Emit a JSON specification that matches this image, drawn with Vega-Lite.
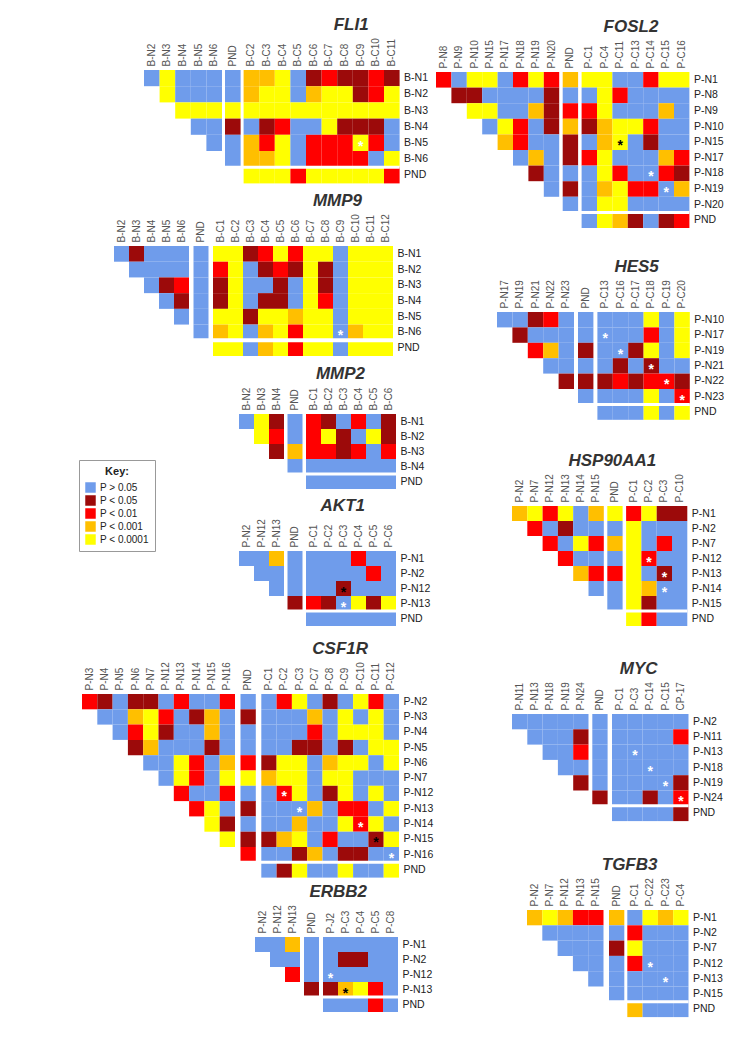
{
"$schema":"https://vega.github.io/schema/vega-lite/v6.json",
"padding":0,
"background":"white",
"config":{
 "view":{"stroke":null},
 "axis":{"ticks":false,"domain":false,"grid":false,"labelFont":"Liberation Sans"},
 "axisX":{"labelAngle":270,"labelFontSize":10,"labelColor":"#555","labelPadding":4},
 "axisY":{"labelFontSize":10.5,"labelColor":"#222","labelPadding":4},
 "scale":{"bandPaddingInner":0,"bandPaddingOuter":0,"rectBandPaddingInner":0},
 "title":{"font":"Liberation Sans","fontSize":17,"fontStyle":"italic","fontWeight":"bold","color":"#333","anchor":"end","frame":"group","dx":-31,"offset":4},
 "legend":{"titleFontWeight":"bold","titleFontSize":11,"titleAnchor":"middle","titleFont":"Liberation Sans","titleColor":"#222","symbolType":"square","symbolSize":110,"symbolStrokeWidth":0,"labelFontSize":10,"labelFont":"Liberation Sans","labelColor":"#222","strokeColor":"#999","padding":6,"fillColor":"white","rowPadding":2}
},
"datasets":{
"FLI1":[
{"r":"B-N1","c":"B-N2","p":0},{"r":"B-N1","c":"B-N3","p":4},{"r":"B-N1","c":"B-N4","p":0},{"r":"B-N1","c":"B-N5","p":0},{"r":"B-N1","c":"B-N6","p":0},
{"r":"B-N2","c":"B-N3","p":4},{"r":"B-N2","c":"B-N4","p":0},{"r":"B-N2","c":"B-N5","p":0},{"r":"B-N2","c":"B-N6","p":0},
{"r":"B-N3","c":"B-N4","p":4},{"r":"B-N3","c":"B-N5","p":4},{"r":"B-N3","c":"B-N6","p":4},
{"r":"B-N4","c":"B-N5","p":0},{"r":"B-N4","c":"B-N6","p":0},
{"r":"B-N5","c":"B-N6","p":0},
{"r":"B-N1","c":"PND","p":0},{"r":"B-N2","c":"PND","p":0},{"r":"B-N3","c":"PND","p":4},{"r":"B-N4","c":"PND","p":1},{"r":"B-N5","c":"PND","p":0},{"r":"B-N6","c":"PND","p":0},
{"r":"B-N1","c":"B-C2","p":3},{"r":"B-N1","c":"B-C3","p":3},{"r":"B-N1","c":"B-C4","p":4},{"r":"B-N1","c":"B-C5","p":0},{"r":"B-N1","c":"B-C6","p":1},{"r":"B-N1","c":"B-C7","p":2},{"r":"B-N1","c":"B-C8","p":1},{"r":"B-N1","c":"B-C9","p":1},{"r":"B-N1","c":"B-C10","p":2},{"r":"B-N1","c":"B-C11","p":1},
{"r":"B-N2","c":"B-C2","p":3},{"r":"B-N2","c":"B-C3","p":4},{"r":"B-N2","c":"B-C4","p":4},{"r":"B-N2","c":"B-C5","p":0},{"r":"B-N2","c":"B-C6","p":3},{"r":"B-N2","c":"B-C7","p":4},{"r":"B-N2","c":"B-C8","p":4},{"r":"B-N2","c":"B-C9","p":1},{"r":"B-N2","c":"B-C10","p":2},{"r":"B-N2","c":"B-C11","p":4},
{"r":"B-N3","c":"B-C2","p":4},{"r":"B-N3","c":"B-C3","p":4},{"r":"B-N3","c":"B-C4","p":4},{"r":"B-N3","c":"B-C5","p":4},{"r":"B-N3","c":"B-C6","p":4},{"r":"B-N3","c":"B-C7","p":4},{"r":"B-N3","c":"B-C8","p":4},{"r":"B-N3","c":"B-C9","p":4},{"r":"B-N3","c":"B-C10","p":4},{"r":"B-N3","c":"B-C11","p":4},
{"r":"B-N4","c":"B-C2","p":0},{"r":"B-N4","c":"B-C3","p":1},{"r":"B-N4","c":"B-C4","p":2},{"r":"B-N4","c":"B-C5","p":0},{"r":"B-N4","c":"B-C6","p":0},{"r":"B-N4","c":"B-C7","p":4},{"r":"B-N4","c":"B-C8","p":1},{"r":"B-N4","c":"B-C9","p":1},{"r":"B-N4","c":"B-C10","p":1},{"r":"B-N4","c":"B-C11","p":0},
{"r":"B-N5","c":"B-C2","p":3},{"r":"B-N5","c":"B-C3","p":2},{"r":"B-N5","c":"B-C4","p":4},{"r":"B-N5","c":"B-C5","p":0},{"r":"B-N5","c":"B-C6","p":2},{"r":"B-N5","c":"B-C7","p":2},{"r":"B-N5","c":"B-C8","p":2},{"r":"B-N5","c":"B-C9","p":4,"s":"w"},{"r":"B-N5","c":"B-C10","p":2},{"r":"B-N5","c":"B-C11","p":0},
{"r":"B-N6","c":"B-C2","p":3},{"r":"B-N6","c":"B-C3","p":3},{"r":"B-N6","c":"B-C4","p":4},{"r":"B-N6","c":"B-C5","p":0},{"r":"B-N6","c":"B-C6","p":2},{"r":"B-N6","c":"B-C7","p":2},{"r":"B-N6","c":"B-C8","p":2},{"r":"B-N6","c":"B-C9","p":2},{"r":"B-N6","c":"B-C10","p":0},{"r":"B-N6","c":"B-C11","p":4},
{"r":"PND","c":"B-C2","p":4},{"r":"PND","c":"B-C3","p":4},{"r":"PND","c":"B-C4","p":4},{"r":"PND","c":"B-C5","p":2},{"r":"PND","c":"B-C6","p":4},{"r":"PND","c":"B-C7","p":4},{"r":"PND","c":"B-C8","p":4},{"r":"PND","c":"B-C9","p":4},{"r":"PND","c":"B-C10","p":4},{"r":"PND","c":"B-C11","p":2}
],
"MMP9":[
{"r":"B-N1","c":"B-N2","p":0},{"r":"B-N1","c":"B-N3","p":1},{"r":"B-N1","c":"B-N4","p":0},{"r":"B-N1","c":"B-N5","p":0},{"r":"B-N1","c":"B-N6","p":0},
{"r":"B-N2","c":"B-N3","p":0},{"r":"B-N2","c":"B-N4","p":0},{"r":"B-N2","c":"B-N5","p":0},{"r":"B-N2","c":"B-N6","p":0},
{"r":"B-N3","c":"B-N4","p":0},{"r":"B-N3","c":"B-N5","p":1},{"r":"B-N3","c":"B-N6","p":2},
{"r":"B-N4","c":"B-N5","p":0},{"r":"B-N4","c":"B-N6","p":1},
{"r":"B-N5","c":"B-N6","p":0},
{"r":"B-N1","c":"PND","p":0},{"r":"B-N2","c":"PND","p":0},{"r":"B-N3","c":"PND","p":0},{"r":"B-N4","c":"PND","p":0},{"r":"B-N5","c":"PND","p":0},{"r":"B-N6","c":"PND","p":0},
{"r":"B-N1","c":"B-C1","p":4},{"r":"B-N1","c":"B-C2","p":4},{"r":"B-N1","c":"B-C3","p":1},{"r":"B-N1","c":"B-C4","p":2},{"r":"B-N1","c":"B-C5","p":4},{"r":"B-N1","c":"B-C6","p":2},{"r":"B-N1","c":"B-C7","p":4},{"r":"B-N1","c":"B-C8","p":4},{"r":"B-N1","c":"B-C9","p":0},{"r":"B-N1","c":"B-C10","p":4},{"r":"B-N1","c":"B-C11","p":4},{"r":"B-N1","c":"B-C12","p":4},
{"r":"B-N2","c":"B-C1","p":2},{"r":"B-N2","c":"B-C2","p":4},{"r":"B-N2","c":"B-C3","p":0},{"r":"B-N2","c":"B-C4","p":1},{"r":"B-N2","c":"B-C5","p":2},{"r":"B-N2","c":"B-C6","p":1},{"r":"B-N2","c":"B-C7","p":4},{"r":"B-N2","c":"B-C8","p":1},{"r":"B-N2","c":"B-C9","p":0},{"r":"B-N2","c":"B-C10","p":4},{"r":"B-N2","c":"B-C11","p":4},{"r":"B-N2","c":"B-C12","p":4},
{"r":"B-N3","c":"B-C1","p":1},{"r":"B-N3","c":"B-C2","p":4},{"r":"B-N3","c":"B-C3","p":0},{"r":"B-N3","c":"B-C4","p":0},{"r":"B-N3","c":"B-C5","p":1},{"r":"B-N3","c":"B-C6","p":0},{"r":"B-N3","c":"B-C7","p":4},{"r":"B-N3","c":"B-C8","p":1},{"r":"B-N3","c":"B-C9","p":0},{"r":"B-N3","c":"B-C10","p":4},{"r":"B-N3","c":"B-C11","p":4},{"r":"B-N3","c":"B-C12","p":4},
{"r":"B-N4","c":"B-C1","p":1},{"r":"B-N4","c":"B-C2","p":4},{"r":"B-N4","c":"B-C3","p":0},{"r":"B-N4","c":"B-C4","p":1},{"r":"B-N4","c":"B-C5","p":1},{"r":"B-N4","c":"B-C6","p":0},{"r":"B-N4","c":"B-C7","p":4},{"r":"B-N4","c":"B-C8","p":2},{"r":"B-N4","c":"B-C9","p":0},{"r":"B-N4","c":"B-C10","p":4},{"r":"B-N4","c":"B-C11","p":4},{"r":"B-N4","c":"B-C12","p":4},
{"r":"B-N5","c":"B-C1","p":4},{"r":"B-N5","c":"B-C2","p":4},{"r":"B-N5","c":"B-C3","p":1},{"r":"B-N5","c":"B-C4","p":4},{"r":"B-N5","c":"B-C5","p":4},{"r":"B-N5","c":"B-C6","p":3},{"r":"B-N5","c":"B-C7","p":4},{"r":"B-N5","c":"B-C8","p":4},{"r":"B-N5","c":"B-C9","p":0},{"r":"B-N5","c":"B-C10","p":4},{"r":"B-N5","c":"B-C11","p":4},{"r":"B-N5","c":"B-C12","p":4},
{"r":"B-N6","c":"B-C1","p":3},{"r":"B-N6","c":"B-C2","p":4},{"r":"B-N6","c":"B-C3","p":0},{"r":"B-N6","c":"B-C4","p":3},{"r":"B-N6","c":"B-C5","p":4},{"r":"B-N6","c":"B-C6","p":2},{"r":"B-N6","c":"B-C7","p":4},{"r":"B-N6","c":"B-C8","p":4},{"r":"B-N6","c":"B-C9","p":0,"s":"w"},{"r":"B-N6","c":"B-C10","p":3},{"r":"B-N6","c":"B-C11","p":4},{"r":"B-N6","c":"B-C12","p":4},
{"r":"PND","c":"B-C1","p":4},{"r":"PND","c":"B-C2","p":4},{"r":"PND","c":"B-C3","p":0},{"r":"PND","c":"B-C4","p":3},{"r":"PND","c":"B-C5","p":4},{"r":"PND","c":"B-C6","p":2},{"r":"PND","c":"B-C7","p":4},{"r":"PND","c":"B-C8","p":4},{"r":"PND","c":"B-C9","p":0},{"r":"PND","c":"B-C10","p":4},{"r":"PND","c":"B-C11","p":4},{"r":"PND","c":"B-C12","p":4}
],
"MMP2":[
{"r":"B-N1","c":"B-N2","p":0},{"r":"B-N1","c":"B-N3","p":4},{"r":"B-N1","c":"B-N4","p":1},
{"r":"B-N2","c":"B-N3","p":4},{"r":"B-N2","c":"B-N4","p":2},
{"r":"B-N3","c":"B-N4","p":1},
{"r":"B-N1","c":"PND","p":0},{"r":"B-N2","c":"PND","p":0},{"r":"B-N3","c":"PND","p":3},{"r":"B-N4","c":"PND","p":0},
{"r":"B-N1","c":"B-C1","p":2},{"r":"B-N1","c":"B-C2","p":1},{"r":"B-N1","c":"B-C3","p":0},{"r":"B-N1","c":"B-C4","p":2},{"r":"B-N1","c":"B-C5","p":0},{"r":"B-N1","c":"B-C6","p":1},
{"r":"B-N2","c":"B-C1","p":2},{"r":"B-N2","c":"B-C2","p":4},{"r":"B-N2","c":"B-C3","p":1},{"r":"B-N2","c":"B-C4","p":0},{"r":"B-N2","c":"B-C5","p":4},{"r":"B-N2","c":"B-C6","p":1},
{"r":"B-N3","c":"B-C1","p":2},{"r":"B-N3","c":"B-C2","p":2},{"r":"B-N3","c":"B-C3","p":1},{"r":"B-N3","c":"B-C4","p":2},{"r":"B-N3","c":"B-C5","p":0},{"r":"B-N3","c":"B-C6","p":2},
{"r":"B-N4","c":"B-C1","p":0},{"r":"B-N4","c":"B-C2","p":0},{"r":"B-N4","c":"B-C3","p":0},{"r":"B-N4","c":"B-C4","p":0},{"r":"B-N4","c":"B-C5","p":0},{"r":"B-N4","c":"B-C6","p":0},
{"r":"PND","c":"B-C1","p":0},{"r":"PND","c":"B-C2","p":0},{"r":"PND","c":"B-C3","p":0},{"r":"PND","c":"B-C4","p":0},{"r":"PND","c":"B-C5","p":0},{"r":"PND","c":"B-C6","p":0}
],
"AKT1":[
{"r":"P-N1","c":"P-N2","p":0},{"r":"P-N1","c":"P-N12","p":0},{"r":"P-N1","c":"P-N13","p":3},
{"r":"P-N2","c":"P-N12","p":0},{"r":"P-N2","c":"P-N13","p":0},
{"r":"P-N12","c":"P-N13","p":0},
{"r":"P-N1","c":"PND","p":0},{"r":"P-N2","c":"PND","p":0},{"r":"P-N12","c":"PND","p":0},{"r":"P-N13","c":"PND","p":1},
{"r":"P-N1","c":"P-C1","p":0},{"r":"P-N1","c":"P-C2","p":0},{"r":"P-N1","c":"P-C3","p":0},{"r":"P-N1","c":"P-C4","p":2},{"r":"P-N1","c":"P-C5","p":0},{"r":"P-N1","c":"P-C6","p":0},
{"r":"P-N2","c":"P-C1","p":0},{"r":"P-N2","c":"P-C2","p":0},{"r":"P-N2","c":"P-C3","p":0},{"r":"P-N2","c":"P-C4","p":0},{"r":"P-N2","c":"P-C5","p":2},{"r":"P-N2","c":"P-C6","p":0},
{"r":"P-N12","c":"P-C1","p":0},{"r":"P-N12","c":"P-C2","p":0},{"r":"P-N12","c":"P-C3","p":1,"s":"k"},{"r":"P-N12","c":"P-C4","p":0},{"r":"P-N12","c":"P-C5","p":0},{"r":"P-N12","c":"P-C6","p":0},
{"r":"P-N13","c":"P-C1","p":2},{"r":"P-N13","c":"P-C2","p":1},{"r":"P-N13","c":"P-C3","p":0,"s":"w"},{"r":"P-N13","c":"P-C4","p":4},{"r":"P-N13","c":"P-C5","p":1},{"r":"P-N13","c":"P-C6","p":4},
{"r":"PND","c":"P-C1","p":0},{"r":"PND","c":"P-C2","p":0},{"r":"PND","c":"P-C3","p":0},{"r":"PND","c":"P-C4","p":0},{"r":"PND","c":"P-C5","p":0},{"r":"PND","c":"P-C6","p":0}
],
"CSF1R":[
{"r":"P-N2","c":"P-N3","p":2},{"r":"P-N2","c":"P-N4","p":1},{"r":"P-N2","c":"P-N5","p":0},{"r":"P-N2","c":"P-N6","p":1},{"r":"P-N2","c":"P-N7","p":1},{"r":"P-N2","c":"P-N12","p":0},{"r":"P-N2","c":"P-N13","p":2},{"r":"P-N2","c":"P-N14","p":0},{"r":"P-N2","c":"P-N15","p":0},{"r":"P-N2","c":"P-N16","p":2},
{"r":"P-N3","c":"P-N4","p":0},{"r":"P-N3","c":"P-N5","p":0},{"r":"P-N3","c":"P-N6","p":3},{"r":"P-N3","c":"P-N7","p":4},{"r":"P-N3","c":"P-N12","p":2},{"r":"P-N3","c":"P-N13","p":0},{"r":"P-N3","c":"P-N14","p":1},{"r":"P-N3","c":"P-N15","p":3},{"r":"P-N3","c":"P-N16","p":0},
{"r":"P-N4","c":"P-N5","p":0},{"r":"P-N4","c":"P-N6","p":2},{"r":"P-N4","c":"P-N7","p":4},{"r":"P-N4","c":"P-N12","p":1},{"r":"P-N4","c":"P-N13","p":0},{"r":"P-N4","c":"P-N14","p":0},{"r":"P-N4","c":"P-N15","p":3},{"r":"P-N4","c":"P-N16","p":0},
{"r":"P-N5","c":"P-N6","p":1},{"r":"P-N5","c":"P-N7","p":3},{"r":"P-N5","c":"P-N12","p":0},{"r":"P-N5","c":"P-N13","p":0},{"r":"P-N5","c":"P-N14","p":0},{"r":"P-N5","c":"P-N15","p":1},{"r":"P-N5","c":"P-N16","p":0},
{"r":"P-N6","c":"P-N7","p":0},{"r":"P-N6","c":"P-N12","p":0},{"r":"P-N6","c":"P-N13","p":4},{"r":"P-N6","c":"P-N14","p":2},{"r":"P-N6","c":"P-N15","p":0},{"r":"P-N6","c":"P-N16","p":3},
{"r":"P-N7","c":"P-N12","p":0},{"r":"P-N7","c":"P-N13","p":4},{"r":"P-N7","c":"P-N14","p":2},{"r":"P-N7","c":"P-N15","p":0},{"r":"P-N7","c":"P-N16","p":4},
{"r":"P-N12","c":"P-N13","p":2},{"r":"P-N12","c":"P-N14","p":0},{"r":"P-N12","c":"P-N15","p":0},{"r":"P-N12","c":"P-N16","p":2},
{"r":"P-N13","c":"P-N14","p":2},{"r":"P-N13","c":"P-N15","p":4},{"r":"P-N13","c":"P-N16","p":0},
{"r":"P-N14","c":"P-N15","p":4},{"r":"P-N14","c":"P-N16","p":1},
{"r":"P-N15","c":"P-N16","p":4},
{"r":"P-N2","c":"PND","p":0},{"r":"P-N3","c":"PND","p":1},{"r":"P-N4","c":"PND","p":0},{"r":"P-N5","c":"PND","p":0},{"r":"P-N6","c":"PND","p":2},{"r":"P-N7","c":"PND","p":4},{"r":"P-N12","c":"PND","p":0},{"r":"P-N13","c":"PND","p":1},{"r":"P-N14","c":"PND","p":0},{"r":"P-N15","c":"PND","p":1},{"r":"P-N16","c":"PND","p":2},
{"r":"P-N2","c":"P-C1","p":0},{"r":"P-N2","c":"P-C2","p":2},{"r":"P-N2","c":"P-C3","p":4},{"r":"P-N2","c":"P-C7","p":0},{"r":"P-N2","c":"P-C8","p":1},{"r":"P-N2","c":"P-C9","p":0},{"r":"P-N2","c":"P-C10","p":4},{"r":"P-N2","c":"P-C11","p":2},{"r":"P-N2","c":"P-C12","p":0},
{"r":"P-N3","c":"P-C1","p":0},{"r":"P-N3","c":"P-C2","p":0},{"r":"P-N3","c":"P-C3","p":0},{"r":"P-N3","c":"P-C7","p":3},{"r":"P-N3","c":"P-C8","p":0},{"r":"P-N3","c":"P-C9","p":4},{"r":"P-N3","c":"P-C10","p":0},{"r":"P-N3","c":"P-C11","p":4},{"r":"P-N3","c":"P-C12","p":0},
{"r":"P-N4","c":"P-C1","p":0},{"r":"P-N4","c":"P-C2","p":0},{"r":"P-N4","c":"P-C3","p":0},{"r":"P-N4","c":"P-C7","p":2},{"r":"P-N4","c":"P-C8","p":0},{"r":"P-N4","c":"P-C9","p":4},{"r":"P-N4","c":"P-C10","p":4},{"r":"P-N4","c":"P-C11","p":4},{"r":"P-N4","c":"P-C12","p":0},
{"r":"P-N5","c":"P-C1","p":0},{"r":"P-N5","c":"P-C2","p":0},{"r":"P-N5","c":"P-C3","p":1},{"r":"P-N5","c":"P-C7","p":1},{"r":"P-N5","c":"P-C8","p":0},{"r":"P-N5","c":"P-C9","p":1},{"r":"P-N5","c":"P-C10","p":0},{"r":"P-N5","c":"P-C11","p":4},{"r":"P-N5","c":"P-C12","p":4},
{"r":"P-N6","c":"P-C1","p":1},{"r":"P-N6","c":"P-C2","p":4},{"r":"P-N6","c":"P-C3","p":4},{"r":"P-N6","c":"P-C7","p":0},{"r":"P-N6","c":"P-C8","p":3},{"r":"P-N6","c":"P-C9","p":4},{"r":"P-N6","c":"P-C10","p":4},{"r":"P-N6","c":"P-C11","p":0},{"r":"P-N6","c":"P-C12","p":4},
{"r":"P-N7","c":"P-C1","p":3},{"r":"P-N7","c":"P-C2","p":4},{"r":"P-N7","c":"P-C3","p":4},{"r":"P-N7","c":"P-C7","p":0},{"r":"P-N7","c":"P-C8","p":4},{"r":"P-N7","c":"P-C9","p":4},{"r":"P-N7","c":"P-C10","p":0},{"r":"P-N7","c":"P-C11","p":0},{"r":"P-N7","c":"P-C12","p":0},
{"r":"P-N12","c":"P-C1","p":0},{"r":"P-N12","c":"P-C2","p":2,"s":"w"},{"r":"P-N12","c":"P-C3","p":4},{"r":"P-N12","c":"P-C7","p":0},{"r":"P-N12","c":"P-C8","p":1},{"r":"P-N12","c":"P-C9","p":4},{"r":"P-N12","c":"P-C10","p":0},{"r":"P-N12","c":"P-C11","p":4},{"r":"P-N12","c":"P-C12","p":0},
{"r":"P-N13","c":"P-C1","p":0},{"r":"P-N13","c":"P-C2","p":0},{"r":"P-N13","c":"P-C3","p":0,"s":"w"},{"r":"P-N13","c":"P-C7","p":3},{"r":"P-N13","c":"P-C8","p":0},{"r":"P-N13","c":"P-C9","p":2},{"r":"P-N13","c":"P-C10","p":2},{"r":"P-N13","c":"P-C11","p":0},{"r":"P-N13","c":"P-C12","p":4},
{"r":"P-N14","c":"P-C1","p":0},{"r":"P-N14","c":"P-C2","p":0},{"r":"P-N14","c":"P-C3","p":3},{"r":"P-N14","c":"P-C7","p":0},{"r":"P-N14","c":"P-C8","p":0},{"r":"P-N14","c":"P-C9","p":4},{"r":"P-N14","c":"P-C10","p":2,"s":"w"},{"r":"P-N14","c":"P-C11","p":4},{"r":"P-N14","c":"P-C12","p":0},
{"r":"P-N15","c":"P-C1","p":1},{"r":"P-N15","c":"P-C2","p":3},{"r":"P-N15","c":"P-C3","p":4},{"r":"P-N15","c":"P-C7","p":0},{"r":"P-N15","c":"P-C8","p":2},{"r":"P-N15","c":"P-C9","p":0},{"r":"P-N15","c":"P-C10","p":0},{"r":"P-N15","c":"P-C11","p":1,"s":"k"},{"r":"P-N15","c":"P-C12","p":4},
{"r":"P-N16","c":"P-C1","p":0},{"r":"P-N16","c":"P-C2","p":0},{"r":"P-N16","c":"P-C3","p":1},{"r":"P-N16","c":"P-C7","p":3},{"r":"P-N16","c":"P-C8","p":0},{"r":"P-N16","c":"P-C9","p":1},{"r":"P-N16","c":"P-C10","p":1},{"r":"P-N16","c":"P-C11","p":0},{"r":"P-N16","c":"P-C12","p":0,"s":"w"},
{"r":"PND","c":"P-C1","p":0},{"r":"PND","c":"P-C2","p":1},{"r":"PND","c":"P-C3","p":4},{"r":"PND","c":"P-C7","p":0},{"r":"PND","c":"P-C8","p":0},{"r":"PND","c":"P-C9","p":4},{"r":"PND","c":"P-C10","p":0},{"r":"PND","c":"P-C11","p":0},{"r":"PND","c":"P-C12","p":4}
],
"ERBB2":[
{"r":"P-N1","c":"P-N2","p":0},{"r":"P-N1","c":"P-N12","p":0},{"r":"P-N1","c":"P-N13","p":3},
{"r":"P-N2","c":"P-N12","p":0},{"r":"P-N2","c":"P-N13","p":0},
{"r":"P-N12","c":"P-N13","p":2},
{"r":"P-N1","c":"PND","p":0},{"r":"P-N2","c":"PND","p":0},{"r":"P-N12","c":"PND","p":0},{"r":"P-N13","c":"PND","p":1},
{"r":"P-N1","c":"P-J2","p":0},{"r":"P-N1","c":"P-C3","p":0},{"r":"P-N1","c":"P-C4","p":0},{"r":"P-N1","c":"P-C5","p":0},{"r":"P-N1","c":"P-C8","p":0},
{"r":"P-N2","c":"P-J2","p":0},{"r":"P-N2","c":"P-C3","p":1},{"r":"P-N2","c":"P-C4","p":1},{"r":"P-N2","c":"P-C5","p":0},{"r":"P-N2","c":"P-C8","p":0},
{"r":"P-N12","c":"P-J2","p":0,"s":"w"},{"r":"P-N12","c":"P-C3","p":0},{"r":"P-N12","c":"P-C4","p":0},{"r":"P-N12","c":"P-C5","p":0},{"r":"P-N12","c":"P-C8","p":0},
{"r":"P-N13","c":"P-J2","p":1},{"r":"P-N13","c":"P-C3","p":3,"s":"k"},{"r":"P-N13","c":"P-C4","p":4},{"r":"P-N13","c":"P-C5","p":2},{"r":"P-N13","c":"P-C8","p":0},
{"r":"PND","c":"P-J2","p":0},{"r":"PND","c":"P-C3","p":0},{"r":"PND","c":"P-C4","p":0},{"r":"PND","c":"P-C5","p":2},{"r":"PND","c":"P-C8","p":0}
],
"FOSL2":[
{"r":"P-N1","c":"P-N8","p":2},{"r":"P-N1","c":"P-N9","p":0},{"r":"P-N1","c":"P-N10","p":4},{"r":"P-N1","c":"P-N15","p":4},{"r":"P-N1","c":"P-N17","p":0},{"r":"P-N1","c":"P-N18","p":2},{"r":"P-N1","c":"P-N19","p":4},{"r":"P-N1","c":"P-N20","p":2},
{"r":"P-N8","c":"P-N9","p":1},{"r":"P-N8","c":"P-N10","p":1},{"r":"P-N8","c":"P-N15","p":0},{"r":"P-N8","c":"P-N17","p":0},{"r":"P-N8","c":"P-N18","p":0},{"r":"P-N8","c":"P-N19","p":0},{"r":"P-N8","c":"P-N20","p":1},
{"r":"P-N9","c":"P-N10","p":4},{"r":"P-N9","c":"P-N15","p":4},{"r":"P-N9","c":"P-N17","p":0},{"r":"P-N9","c":"P-N18","p":0},{"r":"P-N9","c":"P-N19","p":3},{"r":"P-N9","c":"P-N20","p":1},
{"r":"P-N10","c":"P-N15","p":0},{"r":"P-N10","c":"P-N17","p":4},{"r":"P-N10","c":"P-N18","p":2},{"r":"P-N10","c":"P-N19","p":0},{"r":"P-N10","c":"P-N20","p":1},
{"r":"P-N15","c":"P-N17","p":3},{"r":"P-N15","c":"P-N18","p":2},{"r":"P-N15","c":"P-N19","p":0},{"r":"P-N15","c":"P-N20","p":0},
{"r":"P-N17","c":"P-N18","p":0},{"r":"P-N17","c":"P-N19","p":3},{"r":"P-N17","c":"P-N20","p":0},
{"r":"P-N18","c":"P-N19","p":1},{"r":"P-N18","c":"P-N20","p":0},
{"r":"P-N19","c":"P-N20","p":0},
{"r":"P-N1","c":"PND","p":3},{"r":"P-N8","c":"PND","p":0},{"r":"P-N9","c":"PND","p":2},{"r":"P-N10","c":"PND","p":3},{"r":"P-N15","c":"PND","p":1},{"r":"P-N17","c":"PND","p":1},{"r":"P-N18","c":"PND","p":0},{"r":"P-N19","c":"PND","p":1},{"r":"P-N20","c":"PND","p":0},
{"r":"P-N1","c":"P-C1","p":4},{"r":"P-N1","c":"P-C4","p":4},{"r":"P-N1","c":"P-C11","p":0},{"r":"P-N1","c":"P-C13","p":0},{"r":"P-N1","c":"P-C14","p":2},{"r":"P-N1","c":"P-C15","p":4},{"r":"P-N1","c":"P-C16","p":4},
{"r":"P-N8","c":"P-C1","p":0},{"r":"P-N8","c":"P-C4","p":4},{"r":"P-N8","c":"P-C11","p":2},{"r":"P-N8","c":"P-C13","p":0},{"r":"P-N8","c":"P-C14","p":0},{"r":"P-N8","c":"P-C15","p":0},{"r":"P-N8","c":"P-C16","p":0},
{"r":"P-N9","c":"P-C1","p":2},{"r":"P-N9","c":"P-C4","p":4},{"r":"P-N9","c":"P-C11","p":0},{"r":"P-N9","c":"P-C13","p":0},{"r":"P-N9","c":"P-C14","p":0},{"r":"P-N9","c":"P-C15","p":3},{"r":"P-N9","c":"P-C16","p":0},
{"r":"P-N10","c":"P-C1","p":1},{"r":"P-N10","c":"P-C4","p":3},{"r":"P-N10","c":"P-C11","p":4},{"r":"P-N10","c":"P-C13","p":4},{"r":"P-N10","c":"P-C14","p":2},{"r":"P-N10","c":"P-C15","p":0},{"r":"P-N10","c":"P-C16","p":0},
{"r":"P-N15","c":"P-C1","p":0},{"r":"P-N15","c":"P-C4","p":3},{"r":"P-N15","c":"P-C11","p":4,"s":"k"},{"r":"P-N15","c":"P-C13","p":0},{"r":"P-N15","c":"P-C14","p":1},{"r":"P-N15","c":"P-C15","p":0},{"r":"P-N15","c":"P-C16","p":0},
{"r":"P-N17","c":"P-C1","p":2},{"r":"P-N17","c":"P-C4","p":4},{"r":"P-N17","c":"P-C11","p":0},{"r":"P-N17","c":"P-C13","p":0},{"r":"P-N17","c":"P-C14","p":0},{"r":"P-N17","c":"P-C15","p":3},{"r":"P-N17","c":"P-C16","p":2},
{"r":"P-N18","c":"P-C1","p":0},{"r":"P-N18","c":"P-C4","p":4},{"r":"P-N18","c":"P-C11","p":2},{"r":"P-N18","c":"P-C13","p":0},{"r":"P-N18","c":"P-C14","p":0,"s":"w"},{"r":"P-N18","c":"P-C15","p":2},{"r":"P-N18","c":"P-C16","p":1},
{"r":"P-N19","c":"P-C1","p":0},{"r":"P-N19","c":"P-C4","p":3},{"r":"P-N19","c":"P-C11","p":4},{"r":"P-N19","c":"P-C13","p":2},{"r":"P-N19","c":"P-C14","p":2},{"r":"P-N19","c":"P-C15","p":0,"s":"w"},{"r":"P-N19","c":"P-C16","p":3},
{"r":"P-N20","c":"P-C1","p":0},{"r":"P-N20","c":"P-C4","p":4},{"r":"P-N20","c":"P-C11","p":4},{"r":"P-N20","c":"P-C13","p":0},{"r":"P-N20","c":"P-C14","p":0},{"r":"P-N20","c":"P-C15","p":0},{"r":"P-N20","c":"P-C16","p":0},
{"r":"PND","c":"P-C1","p":0},{"r":"PND","c":"P-C4","p":4},{"r":"PND","c":"P-C11","p":3},{"r":"PND","c":"P-C13","p":1},{"r":"PND","c":"P-C14","p":0},{"r":"PND","c":"P-C15","p":1},{"r":"PND","c":"P-C16","p":2}
],
"HES5":[
{"r":"P-N10","c":"P-N17","p":0},{"r":"P-N10","c":"P-N19","p":0},{"r":"P-N10","c":"P-N21","p":1},{"r":"P-N10","c":"P-N22","p":2},{"r":"P-N10","c":"P-N23","p":0},
{"r":"P-N17","c":"P-N19","p":1},{"r":"P-N17","c":"P-N21","p":0},{"r":"P-N17","c":"P-N22","p":0},{"r":"P-N17","c":"P-N23","p":0},
{"r":"P-N19","c":"P-N21","p":2},{"r":"P-N19","c":"P-N22","p":3},{"r":"P-N19","c":"P-N23","p":0},
{"r":"P-N21","c":"P-N22","p":0},{"r":"P-N21","c":"P-N23","p":0},
{"r":"P-N22","c":"P-N23","p":1},
{"r":"P-N10","c":"PND","p":0},{"r":"P-N17","c":"PND","p":0},{"r":"P-N19","c":"PND","p":1},{"r":"P-N21","c":"PND","p":0},{"r":"P-N22","c":"PND","p":1},{"r":"P-N23","c":"PND","p":0},
{"r":"P-N10","c":"P-C13","p":0},{"r":"P-N10","c":"P-C16","p":0},{"r":"P-N10","c":"P-C17","p":0},{"r":"P-N10","c":"P-C18","p":4},{"r":"P-N10","c":"P-C19","p":0},{"r":"P-N10","c":"P-C20","p":4},
{"r":"P-N17","c":"P-C13","p":0,"s":"w"},{"r":"P-N17","c":"P-C16","p":0},{"r":"P-N17","c":"P-C17","p":0},{"r":"P-N17","c":"P-C18","p":2},{"r":"P-N17","c":"P-C19","p":0},{"r":"P-N17","c":"P-C20","p":4},
{"r":"P-N19","c":"P-C13","p":0},{"r":"P-N19","c":"P-C16","p":0,"s":"w"},{"r":"P-N19","c":"P-C17","p":1},{"r":"P-N19","c":"P-C18","p":4},{"r":"P-N19","c":"P-C19","p":0},{"r":"P-N19","c":"P-C20","p":4},
{"r":"P-N21","c":"P-C13","p":0},{"r":"P-N21","c":"P-C16","p":1},{"r":"P-N21","c":"P-C17","p":0},{"r":"P-N21","c":"P-C18","p":1,"s":"w"},{"r":"P-N21","c":"P-C19","p":0},{"r":"P-N21","c":"P-C20","p":0},
{"r":"P-N22","c":"P-C13","p":1},{"r":"P-N22","c":"P-C16","p":2},{"r":"P-N22","c":"P-C17","p":1},{"r":"P-N22","c":"P-C18","p":2},{"r":"P-N22","c":"P-C19","p":2,"s":"w"},{"r":"P-N22","c":"P-C20","p":1},
{"r":"P-N23","c":"P-C13","p":0},{"r":"P-N23","c":"P-C16","p":0},{"r":"P-N23","c":"P-C17","p":0},{"r":"P-N23","c":"P-C18","p":4},{"r":"P-N23","c":"P-C19","p":0},{"r":"P-N23","c":"P-C20","p":2,"s":"w"},
{"r":"PND","c":"P-C13","p":0},{"r":"PND","c":"P-C16","p":0},{"r":"PND","c":"P-C17","p":0},{"r":"PND","c":"P-C18","p":4},{"r":"PND","c":"P-C19","p":0},{"r":"PND","c":"P-C20","p":4}
],
"HSP90AA1":[
{"r":"P-N1","c":"P-N2","p":3},{"r":"P-N1","c":"P-N7","p":4},{"r":"P-N1","c":"P-N12","p":2},{"r":"P-N1","c":"P-N13","p":4},{"r":"P-N1","c":"P-N14","p":0},{"r":"P-N1","c":"P-N15","p":3},
{"r":"P-N2","c":"P-N7","p":2},{"r":"P-N2","c":"P-N12","p":0},{"r":"P-N2","c":"P-N13","p":1},{"r":"P-N2","c":"P-N14","p":0},{"r":"P-N2","c":"P-N15","p":0},
{"r":"P-N7","c":"P-N12","p":2},{"r":"P-N7","c":"P-N13","p":0},{"r":"P-N7","c":"P-N14","p":4},{"r":"P-N7","c":"P-N15","p":2},
{"r":"P-N12","c":"P-N13","p":2},{"r":"P-N12","c":"P-N14","p":0},{"r":"P-N12","c":"P-N15","p":0},
{"r":"P-N13","c":"P-N14","p":3},{"r":"P-N13","c":"P-N15","p":2},
{"r":"P-N14","c":"P-N15","p":0},
{"r":"P-N1","c":"PND","p":4},{"r":"P-N2","c":"PND","p":0},{"r":"P-N7","c":"PND","p":3},{"r":"P-N12","c":"PND","p":0},{"r":"P-N13","c":"PND","p":2},{"r":"P-N14","c":"PND","p":0},{"r":"P-N15","c":"PND","p":0},
{"r":"P-N1","c":"P-C1","p":2},{"r":"P-N1","c":"P-C2","p":4},{"r":"P-N1","c":"P-C3","p":1},{"r":"P-N1","c":"P-C10","p":1},
{"r":"P-N2","c":"P-C1","p":4},{"r":"P-N2","c":"P-C2","p":0},{"r":"P-N2","c":"P-C3","p":0},{"r":"P-N2","c":"P-C10","p":0},
{"r":"P-N7","c":"P-C1","p":4},{"r":"P-N7","c":"P-C2","p":0},{"r":"P-N7","c":"P-C3","p":2},{"r":"P-N7","c":"P-C10","p":0},
{"r":"P-N12","c":"P-C1","p":4},{"r":"P-N12","c":"P-C2","p":2,"s":"w"},{"r":"P-N12","c":"P-C3","p":0},{"r":"P-N12","c":"P-C10","p":0},
{"r":"P-N13","c":"P-C1","p":4},{"r":"P-N13","c":"P-C2","p":0},{"r":"P-N13","c":"P-C3","p":1,"s":"w"},{"r":"P-N13","c":"P-C10","p":0},
{"r":"P-N14","c":"P-C1","p":4},{"r":"P-N14","c":"P-C2","p":3},{"r":"P-N14","c":"P-C3","p":0,"s":"w"},{"r":"P-N14","c":"P-C10","p":0},
{"r":"P-N15","c":"P-C1","p":4},{"r":"P-N15","c":"P-C2","p":1},{"r":"P-N15","c":"P-C3","p":0},{"r":"P-N15","c":"P-C10","p":0},
{"r":"PND","c":"P-C1","p":4},{"r":"PND","c":"P-C2","p":2},{"r":"PND","c":"P-C3","p":0},{"r":"PND","c":"P-C10","p":0}
],
"MYC":[
{"r":"P-N2","c":"P-N11","p":0},{"r":"P-N2","c":"P-N13","p":0},{"r":"P-N2","c":"P-N18","p":0},{"r":"P-N2","c":"P-N19","p":0},{"r":"P-N2","c":"P-N24","p":0},
{"r":"P-N11","c":"P-N13","p":0},{"r":"P-N11","c":"P-N18","p":0},{"r":"P-N11","c":"P-N19","p":0},{"r":"P-N11","c":"P-N24","p":1},
{"r":"P-N13","c":"P-N18","p":0},{"r":"P-N13","c":"P-N19","p":0},{"r":"P-N13","c":"P-N24","p":2},
{"r":"P-N18","c":"P-N19","p":0},{"r":"P-N18","c":"P-N24","p":0},
{"r":"P-N19","c":"P-N24","p":1},
{"r":"P-N2","c":"PND","p":0},{"r":"P-N11","c":"PND","p":0},{"r":"P-N13","c":"PND","p":0},{"r":"P-N18","c":"PND","p":0},{"r":"P-N19","c":"PND","p":0},{"r":"P-N24","c":"PND","p":1},
{"r":"P-N2","c":"P-C1","p":0},{"r":"P-N2","c":"P-C3","p":0},{"r":"P-N2","c":"P-C14","p":0},{"r":"P-N2","c":"P-C15","p":0},{"r":"P-N2","c":"CP-17","p":0},
{"r":"P-N11","c":"P-C1","p":0},{"r":"P-N11","c":"P-C3","p":0},{"r":"P-N11","c":"P-C14","p":0},{"r":"P-N11","c":"P-C15","p":0},{"r":"P-N11","c":"CP-17","p":2},
{"r":"P-N13","c":"P-C1","p":0},{"r":"P-N13","c":"P-C3","p":0,"s":"w"},{"r":"P-N13","c":"P-C14","p":0},{"r":"P-N13","c":"P-C15","p":0},{"r":"P-N13","c":"CP-17","p":0},
{"r":"P-N18","c":"P-C1","p":0},{"r":"P-N18","c":"P-C3","p":0},{"r":"P-N18","c":"P-C14","p":0,"s":"w"},{"r":"P-N18","c":"P-C15","p":0},{"r":"P-N18","c":"CP-17","p":0},
{"r":"P-N19","c":"P-C1","p":0},{"r":"P-N19","c":"P-C3","p":0},{"r":"P-N19","c":"P-C14","p":0},{"r":"P-N19","c":"P-C15","p":0,"s":"w"},{"r":"P-N19","c":"CP-17","p":1},
{"r":"P-N24","c":"P-C1","p":0},{"r":"P-N24","c":"P-C3","p":0},{"r":"P-N24","c":"P-C14","p":1},{"r":"P-N24","c":"P-C15","p":0},{"r":"P-N24","c":"CP-17","p":2,"s":"w"},
{"r":"PND","c":"P-C1","p":0},{"r":"PND","c":"P-C3","p":0},{"r":"PND","c":"P-C14","p":0},{"r":"PND","c":"P-C15","p":0},{"r":"PND","c":"CP-17","p":1}
],
"TGFB3":[
{"r":"P-N1","c":"P-N2","p":3},{"r":"P-N1","c":"P-N7","p":4},{"r":"P-N1","c":"P-N12","p":3},{"r":"P-N1","c":"P-N13","p":2},{"r":"P-N1","c":"P-N15","p":2},
{"r":"P-N2","c":"P-N7","p":0},{"r":"P-N2","c":"P-N12","p":0},{"r":"P-N2","c":"P-N13","p":0},{"r":"P-N2","c":"P-N15","p":0},
{"r":"P-N7","c":"P-N12","p":0},{"r":"P-N7","c":"P-N13","p":0},{"r":"P-N7","c":"P-N15","p":0},
{"r":"P-N12","c":"P-N13","p":0},{"r":"P-N12","c":"P-N15","p":0},
{"r":"P-N13","c":"P-N15","p":0},
{"r":"P-N1","c":"PND","p":3},{"r":"P-N2","c":"PND","p":0},{"r":"P-N7","c":"PND","p":1},{"r":"P-N12","c":"PND","p":0},{"r":"P-N13","c":"PND","p":0},{"r":"P-N15","c":"PND","p":0},
{"r":"P-N1","c":"P-C1","p":0},{"r":"P-N1","c":"P-C22","p":4},{"r":"P-N1","c":"P-C23","p":3},{"r":"P-N1","c":"P-C4","p":4},
{"r":"P-N2","c":"P-C1","p":2},{"r":"P-N2","c":"P-C22","p":0},{"r":"P-N2","c":"P-C23","p":0},{"r":"P-N2","c":"P-C4","p":0},
{"r":"P-N7","c":"P-C1","p":4},{"r":"P-N7","c":"P-C22","p":0},{"r":"P-N7","c":"P-C23","p":0},{"r":"P-N7","c":"P-C4","p":0},
{"r":"P-N12","c":"P-C1","p":2},{"r":"P-N12","c":"P-C22","p":0,"s":"w"},{"r":"P-N12","c":"P-C23","p":0},{"r":"P-N12","c":"P-C4","p":0},
{"r":"P-N13","c":"P-C1","p":0},{"r":"P-N13","c":"P-C22","p":0},{"r":"P-N13","c":"P-C23","p":0,"s":"w"},{"r":"P-N13","c":"P-C4","p":0},
{"r":"P-N15","c":"P-C1","p":0},{"r":"P-N15","c":"P-C22","p":0},{"r":"P-N15","c":"P-C23","p":0},{"r":"P-N15","c":"P-C4","p":0},
{"r":"PND","c":"P-C1","p":3},{"r":"PND","c":"P-C22","p":0},{"r":"PND","c":"P-C23","p":0},{"r":"PND","c":"P-C4","p":0}
]
},
"hconcat":[
{"vconcat":[
 {"width":431,"height":70,"data":{"values":[]},"mark":"point","encoding":{}},
 {"width":397.6,"height":113.4,"title":{"text":"FLI1"},"data":{"name":"FLI1"},"resolve":{"scale":{"x":"independent"},"axis":{"x":"independent"}},"layer":[
  {"transform":[{"filter":{"field":"c","oneOf":["B-N2","B-N3","B-N4","B-N5","B-N6"]}}],"mark":"rect","encoding":{"x":{"field":"c","type":"nominal","scale":{"domain":["B-N2","B-N3","B-N4","B-N5","B-N6"],"range":[142,220]},"axis":{"orient":"top","title":null}},"y":{"field":"r","type":"nominal","scale":{"domain":["B-N1","B-N2","B-N3","B-N4","B-N5","B-N6","PND"]},"axis":{"orient":"right","title":null}},"color":{"field":"p","type":"nominal","scale":{"domain":[0,1,2,3,4],"range":["#6f9ceb","#9c0a0a","#ff0000","#ffbf00","#ffff00"]},"legend":{"orient":"none","legendX":77,"legendY":460,"title":"Key:","labelExpr":"['P > 0.05','P < 0.05','P < 0.01','P < 0.001','P < 0.0001'][datum.value]"}}}},
  {"transform":[{"filter":{"field":"c","equal":"PND"}}],"mark":"rect","encoding":{"x":{"field":"c","type":"nominal","scale":{"domain":["PND"],"range":[223,238.6]},"axis":{"orient":"top","title":null}},"y":{"field":"r","type":"nominal","scale":{"domain":["B-N1","B-N2","B-N3","B-N4","B-N5","B-N6","PND"]},"axis":{"orient":"right","title":null}},"color":{"field":"p","type":"nominal","scale":{"domain":[0,1,2,3,4],"range":["#6f9ceb","#9c0a0a","#ff0000","#ffbf00","#ffff00"]},"legend":{"orient":"none","legendX":77,"legendY":460,"title":"Key:","labelExpr":"['P > 0.05','P < 0.05','P < 0.01','P < 0.001','P < 0.0001'][datum.value]"}}}},
  {"transform":[{"filter":{"field":"c","oneOf":["B-C2","B-C3","B-C4","B-C5","B-C6","B-C7","B-C8","B-C9","B-C10","B-C11"]}}],"mark":"rect","encoding":{"x":{"field":"c","type":"nominal","scale":{"domain":["B-C2","B-C3","B-C4","B-C5","B-C6","B-C7","B-C8","B-C9","B-C10","B-C11"],"range":[241.6,397.6]},"axis":{"orient":"top","title":null}},"y":{"field":"r","type":"nominal","scale":{"domain":["B-N1","B-N2","B-N3","B-N4","B-N5","B-N6","PND"]},"axis":{"orient":"right","title":null}},"color":{"field":"p","type":"nominal","scale":{"domain":[0,1,2,3,4],"range":["#6f9ceb","#9c0a0a","#ff0000","#ffbf00","#ffff00"]},"legend":{"orient":"none","legendX":77,"legendY":460,"title":"Key:","labelExpr":"['P > 0.05','P < 0.05','P < 0.01','P < 0.001','P < 0.0001'][datum.value]"}}}},
  {"transform":[{"filter":{"field":"s","equal":"w"}}],"mark":{"type":"text","text":"*","color":"white","fontSize":14,"fontWeight":"bold","dy":4},"encoding":{"x":{"field":"c","type":"nominal","scale":{"domain":["B-C2","B-C3","B-C4","B-C5","B-C6","B-C7","B-C8","B-C9","B-C10","B-C11"],"range":[241.6,397.6]},"axis":null},"y":{"field":"r","type":"nominal","scale":{"domain":["B-N1","B-N2","B-N3","B-N4","B-N5","B-N6","PND"]},"axis":{"orient":"right","title":null}}}},
  {"data":{"values":[{"r":"PND"}]},"mark":{"type":"rule","color":"white","strokeWidth":3},"encoding":{"y":{"field":"r","type":"nominal","bandPosition":0,"scale":{"domain":["B-N1","B-N2","B-N3","B-N4","B-N5","B-N6","PND"]},"axis":{"orient":"right","title":null}}}}
 ]},
 {"width":1,"height":61.6,"data":{"values":[]},"mark":"point","encoding":{}},
 {"width":391,"height":110,"title":{"text":"MMP9"},"data":{"name":"MMP9"},"resolve":{"scale":{"x":"independent"},"axis":{"x":"independent"}},"layer":[
  {"transform":[{"filter":{"field":"c","oneOf":["B-N2","B-N3","B-N4","B-N5","B-N6"]}}],"mark":"rect","encoding":{"x":{"field":"c","type":"nominal","scale":{"domain":["B-N2","B-N3","B-N4","B-N5","B-N6"],"range":[112,187]},"axis":{"orient":"top","title":null}},"y":{"field":"r","type":"nominal","scale":{"domain":["B-N1","B-N2","B-N3","B-N4","B-N5","B-N6","PND"]},"axis":{"orient":"right","title":null}},"color":{"field":"p","type":"nominal","scale":{"domain":[0,1,2,3,4],"range":["#6f9ceb","#9c0a0a","#ff0000","#ffbf00","#ffff00"]},"legend":{"orient":"none","legendX":77,"legendY":460,"title":"Key:","labelExpr":"['P > 0.05','P < 0.05','P < 0.01','P < 0.001','P < 0.0001'][datum.value]"}}}},
  {"transform":[{"filter":{"field":"c","equal":"PND"}}],"mark":"rect","encoding":{"x":{"field":"c","type":"nominal","scale":{"domain":["PND"],"range":[191.5,206.5]},"axis":{"orient":"top","title":null}},"y":{"field":"r","type":"nominal","scale":{"domain":["B-N1","B-N2","B-N3","B-N4","B-N5","B-N6","PND"]},"axis":{"orient":"right","title":null}},"color":{"field":"p","type":"nominal","scale":{"domain":[0,1,2,3,4],"range":["#6f9ceb","#9c0a0a","#ff0000","#ffbf00","#ffff00"]},"legend":{"orient":"none","legendX":77,"legendY":460,"title":"Key:","labelExpr":"['P > 0.05','P < 0.05','P < 0.01','P < 0.001','P < 0.0001'][datum.value]"}}}},
  {"transform":[{"filter":{"field":"c","oneOf":["B-C1","B-C2","B-C3","B-C4","B-C5","B-C6","B-C7","B-C8","B-C9","B-C10","B-C11","B-C12"]}}],"mark":"rect","encoding":{"x":{"field":"c","type":"nominal","scale":{"domain":["B-C1","B-C2","B-C3","B-C4","B-C5","B-C6","B-C7","B-C8","B-C9","B-C10","B-C11","B-C12"],"range":[211,391]},"axis":{"orient":"top","title":null}},"y":{"field":"r","type":"nominal","scale":{"domain":["B-N1","B-N2","B-N3","B-N4","B-N5","B-N6","PND"]},"axis":{"orient":"right","title":null}},"color":{"field":"p","type":"nominal","scale":{"domain":[0,1,2,3,4],"range":["#6f9ceb","#9c0a0a","#ff0000","#ffbf00","#ffff00"]},"legend":{"orient":"none","legendX":77,"legendY":460,"title":"Key:","labelExpr":"['P > 0.05','P < 0.05','P < 0.01','P < 0.001','P < 0.0001'][datum.value]"}}}},
  {"transform":[{"filter":{"field":"s","equal":"w"}}],"mark":{"type":"text","text":"*","color":"white","fontSize":14,"fontWeight":"bold","dy":4},"encoding":{"x":{"field":"c","type":"nominal","scale":{"domain":["B-C1","B-C2","B-C3","B-C4","B-C5","B-C6","B-C7","B-C8","B-C9","B-C10","B-C11","B-C12"],"range":[211,391]},"axis":null},"y":{"field":"r","type":"nominal","scale":{"domain":["B-N1","B-N2","B-N3","B-N4","B-N5","B-N6","PND"]},"axis":{"orient":"right","title":null}}}},
  {"data":{"values":[{"r":"PND"}]},"mark":{"type":"rule","color":"white","strokeWidth":4},"encoding":{"y":{"field":"r","type":"nominal","bandPosition":0,"scale":{"domain":["B-N1","B-N2","B-N3","B-N4","B-N5","B-N6","PND"]},"axis":{"orient":"right","title":null}}}}
 ]},
 {"width":1,"height":58,"data":{"values":[]},"mark":"point","encoding":{}},
 {"width":394,"height":75,"title":{"text":"MMP2"},"data":{"name":"MMP2"},"resolve":{"scale":{"x":"independent"},"axis":{"x":"independent"}},"layer":[
  {"transform":[{"filter":{"field":"c","oneOf":["B-N2","B-N3","B-N4"]}}],"mark":"rect","encoding":{"x":{"field":"c","type":"nominal","scale":{"domain":["B-N2","B-N3","B-N4"],"range":[237,282]},"axis":{"orient":"top","title":null}},"y":{"field":"r","type":"nominal","scale":{"domain":["B-N1","B-N2","B-N3","B-N4","PND"]},"axis":{"orient":"right","title":null}},"color":{"field":"p","type":"nominal","scale":{"domain":[0,1,2,3,4],"range":["#6f9ceb","#9c0a0a","#ff0000","#ffbf00","#ffff00"]},"legend":{"orient":"none","legendX":77,"legendY":460,"title":"Key:","labelExpr":"['P > 0.05','P < 0.05','P < 0.01','P < 0.001','P < 0.0001'][datum.value]"}}}},
  {"transform":[{"filter":{"field":"c","equal":"PND"}}],"mark":"rect","encoding":{"x":{"field":"c","type":"nominal","scale":{"domain":["PND"],"range":[285.5,300.5]},"axis":{"orient":"top","title":null}},"y":{"field":"r","type":"nominal","scale":{"domain":["B-N1","B-N2","B-N3","B-N4","PND"]},"axis":{"orient":"right","title":null}},"color":{"field":"p","type":"nominal","scale":{"domain":[0,1,2,3,4],"range":["#6f9ceb","#9c0a0a","#ff0000","#ffbf00","#ffff00"]},"legend":{"orient":"none","legendX":77,"legendY":460,"title":"Key:","labelExpr":"['P > 0.05','P < 0.05','P < 0.01','P < 0.001','P < 0.0001'][datum.value]"}}}},
  {"transform":[{"filter":{"field":"c","oneOf":["B-C1","B-C2","B-C3","B-C4","B-C5","B-C6"]}}],"mark":"rect","encoding":{"x":{"field":"c","type":"nominal","scale":{"domain":["B-C1","B-C2","B-C3","B-C4","B-C5","B-C6"],"range":[304,394]},"axis":{"orient":"top","title":null}},"y":{"field":"r","type":"nominal","scale":{"domain":["B-N1","B-N2","B-N3","B-N4","PND"]},"axis":{"orient":"right","title":null}},"color":{"field":"p","type":"nominal","scale":{"domain":[0,1,2,3,4],"range":["#6f9ceb","#9c0a0a","#ff0000","#ffbf00","#ffff00"]},"legend":{"orient":"none","legendX":77,"legendY":460,"title":"Key:","labelExpr":"['P > 0.05','P < 0.05','P < 0.01','P < 0.001','P < 0.0001'][datum.value]"}}}},
  {"data":{"values":[{"r":"PND"}]},"mark":{"type":"rule","color":"white","strokeWidth":3},"encoding":{"y":{"field":"r","type":"nominal","bandPosition":0,"scale":{"domain":["B-N1","B-N2","B-N3","B-N4","PND"]},"axis":{"orient":"right","title":null}}}}
 ]},
 {"width":1,"height":62,"data":{"values":[]},"mark":"point","encoding":{}},
 {"width":394,"height":75,"title":{"text":"AKT1"},"data":{"name":"AKT1"},"resolve":{"scale":{"x":"independent"},"axis":{"x":"independent"}},"layer":[
  {"transform":[{"filter":{"field":"c","oneOf":["P-N2","P-N12","P-N13"]}}],"mark":"rect","encoding":{"x":{"field":"c","type":"nominal","scale":{"domain":["P-N2","P-N12","P-N13"],"range":[237,282]},"axis":{"orient":"top","title":null}},"y":{"field":"r","type":"nominal","scale":{"domain":["P-N1","P-N2","P-N12","P-N13","PND"]},"axis":{"orient":"right","title":null}},"color":{"field":"p","type":"nominal","scale":{"domain":[0,1,2,3,4],"range":["#6f9ceb","#9c0a0a","#ff0000","#ffbf00","#ffff00"]},"legend":{"orient":"none","legendX":77,"legendY":460,"title":"Key:","labelExpr":"['P > 0.05','P < 0.05','P < 0.01','P < 0.001','P < 0.0001'][datum.value]"}}}},
  {"transform":[{"filter":{"field":"c","equal":"PND"}}],"mark":"rect","encoding":{"x":{"field":"c","type":"nominal","scale":{"domain":["PND"],"range":[285.5,300.5]},"axis":{"orient":"top","title":null}},"y":{"field":"r","type":"nominal","scale":{"domain":["P-N1","P-N2","P-N12","P-N13","PND"]},"axis":{"orient":"right","title":null}},"color":{"field":"p","type":"nominal","scale":{"domain":[0,1,2,3,4],"range":["#6f9ceb","#9c0a0a","#ff0000","#ffbf00","#ffff00"]},"legend":{"orient":"none","legendX":77,"legendY":460,"title":"Key:","labelExpr":"['P > 0.05','P < 0.05','P < 0.01','P < 0.001','P < 0.0001'][datum.value]"}}}},
  {"transform":[{"filter":{"field":"c","oneOf":["P-C1","P-C2","P-C3","P-C4","P-C5","P-C6"]}}],"mark":"rect","encoding":{"x":{"field":"c","type":"nominal","scale":{"domain":["P-C1","P-C2","P-C3","P-C4","P-C5","P-C6"],"range":[304,394]},"axis":{"orient":"top","title":null}},"y":{"field":"r","type":"nominal","scale":{"domain":["P-N1","P-N2","P-N12","P-N13","PND"]},"axis":{"orient":"right","title":null}},"color":{"field":"p","type":"nominal","scale":{"domain":[0,1,2,3,4],"range":["#6f9ceb","#9c0a0a","#ff0000","#ffbf00","#ffff00"]},"legend":{"orient":"none","legendX":77,"legendY":460,"title":"Key:","labelExpr":"['P > 0.05','P < 0.05','P < 0.01','P < 0.001','P < 0.0001'][datum.value]"}}}},
  {"transform":[{"filter":{"field":"s","equal":"w"}}],"mark":{"type":"text","text":"*","color":"white","fontSize":14,"fontWeight":"bold","dy":4},"encoding":{"x":{"field":"c","type":"nominal","scale":{"domain":["P-C1","P-C2","P-C3","P-C4","P-C5","P-C6"],"range":[304,394]},"axis":null},"y":{"field":"r","type":"nominal","scale":{"domain":["P-N1","P-N2","P-N12","P-N13","PND"]},"axis":{"orient":"right","title":null}}}},
  {"transform":[{"filter":{"field":"s","equal":"k"}}],"mark":{"type":"text","text":"*","color":"black","fontSize":14,"fontWeight":"bold","dy":4},"encoding":{"x":{"field":"c","type":"nominal","scale":{"domain":["P-C1","P-C2","P-C3","P-C4","P-C5","P-C6"],"range":[304,394]},"axis":null},"y":{"field":"r","type":"nominal","scale":{"domain":["P-N1","P-N2","P-N12","P-N13","PND"]},"axis":{"orient":"right","title":null}}}},
  {"data":{"values":[{"r":"PND"}]},"mark":{"type":"rule","color":"white","strokeWidth":3},"encoding":{"y":{"field":"r","type":"nominal","bandPosition":0,"scale":{"domain":["P-N1","P-N2","P-N12","P-N13","PND"]},"axis":{"orient":"right","title":null}}}}
 ]},
 {"width":1,"height":68,"data":{"values":[]},"mark":"point","encoding":{}},
 {"width":397,"height":183.6,"title":{"text":"CSF1R"},"data":{"name":"CSF1R"},"resolve":{"scale":{"x":"independent"},"axis":{"x":"independent"}},"layer":[
  {"transform":[{"filter":{"field":"c","oneOf":["P-N3","P-N4","P-N5","P-N6","P-N7","P-N12","P-N13","P-N14","P-N15","P-N16"]}}],"mark":"rect","encoding":{"x":{"field":"c","type":"nominal","scale":{"domain":["P-N3","P-N4","P-N5","P-N6","P-N7","P-N12","P-N13","P-N14","P-N15","P-N16"],"range":[80,233]},"axis":{"orient":"top","title":null}},"y":{"field":"r","type":"nominal","scale":{"domain":["P-N2","P-N3","P-N4","P-N5","P-N6","P-N7","P-N12","P-N13","P-N14","P-N15","P-N16","PND"]},"axis":{"orient":"right","title":null}},"color":{"field":"p","type":"nominal","scale":{"domain":[0,1,2,3,4],"range":["#6f9ceb","#9c0a0a","#ff0000","#ffbf00","#ffff00"]},"legend":{"orient":"none","legendX":77,"legendY":460,"title":"Key:","labelExpr":"['P > 0.05','P < 0.05','P < 0.01','P < 0.001','P < 0.0001'][datum.value]"}}}},
  {"transform":[{"filter":{"field":"c","equal":"PND"}}],"mark":"rect","encoding":{"x":{"field":"c","type":"nominal","scale":{"domain":["PND"],"range":[238.5,253.8]},"axis":{"orient":"top","title":null}},"y":{"field":"r","type":"nominal","scale":{"domain":["P-N2","P-N3","P-N4","P-N5","P-N6","P-N7","P-N12","P-N13","P-N14","P-N15","P-N16","PND"]},"axis":{"orient":"right","title":null}},"color":{"field":"p","type":"nominal","scale":{"domain":[0,1,2,3,4],"range":["#6f9ceb","#9c0a0a","#ff0000","#ffbf00","#ffff00"]},"legend":{"orient":"none","legendX":77,"legendY":460,"title":"Key:","labelExpr":"['P > 0.05','P < 0.05','P < 0.01','P < 0.001','P < 0.0001'][datum.value]"}}}},
  {"transform":[{"filter":{"field":"c","oneOf":["P-C1","P-C2","P-C3","P-C7","P-C8","P-C9","P-C10","P-C11","P-C12"]}}],"mark":"rect","encoding":{"x":{"field":"c","type":"nominal","scale":{"domain":["P-C1","P-C2","P-C3","P-C7","P-C8","P-C9","P-C10","P-C11","P-C12"],"range":[259.3,397]},"axis":{"orient":"top","title":null}},"y":{"field":"r","type":"nominal","scale":{"domain":["P-N2","P-N3","P-N4","P-N5","P-N6","P-N7","P-N12","P-N13","P-N14","P-N15","P-N16","PND"]},"axis":{"orient":"right","title":null}},"color":{"field":"p","type":"nominal","scale":{"domain":[0,1,2,3,4],"range":["#6f9ceb","#9c0a0a","#ff0000","#ffbf00","#ffff00"]},"legend":{"orient":"none","legendX":77,"legendY":460,"title":"Key:","labelExpr":"['P > 0.05','P < 0.05','P < 0.01','P < 0.001','P < 0.0001'][datum.value]"}}}},
  {"transform":[{"filter":{"field":"s","equal":"w"}}],"mark":{"type":"text","text":"*","color":"white","fontSize":14,"fontWeight":"bold","dy":4},"encoding":{"x":{"field":"c","type":"nominal","scale":{"domain":["P-C1","P-C2","P-C3","P-C7","P-C8","P-C9","P-C10","P-C11","P-C12"],"range":[259.3,397]},"axis":null},"y":{"field":"r","type":"nominal","scale":{"domain":["P-N2","P-N3","P-N4","P-N5","P-N6","P-N7","P-N12","P-N13","P-N14","P-N15","P-N16","PND"]},"axis":{"orient":"right","title":null}}}},
  {"transform":[{"filter":{"field":"s","equal":"k"}}],"mark":{"type":"text","text":"*","color":"black","fontSize":14,"fontWeight":"bold","dy":4},"encoding":{"x":{"field":"c","type":"nominal","scale":{"domain":["P-C1","P-C2","P-C3","P-C7","P-C8","P-C9","P-C10","P-C11","P-C12"],"range":[259.3,397]},"axis":null},"y":{"field":"r","type":"nominal","scale":{"domain":["P-N2","P-N3","P-N4","P-N5","P-N6","P-N7","P-N12","P-N13","P-N14","P-N15","P-N16","PND"]},"axis":{"orient":"right","title":null}}}},
  {"data":{"values":[{"r":"PND"}]},"mark":{"type":"rule","color":"white","strokeWidth":3},"encoding":{"y":{"field":"r","type":"nominal","bandPosition":0,"scale":{"domain":["P-N2","P-N3","P-N4","P-N5","P-N6","P-N7","P-N12","P-N13","P-N14","P-N15","P-N16","PND"]},"axis":{"orient":"right","title":null}}}}
 ]},
 {"width":1,"height":58.4,"data":{"values":[]},"mark":"point","encoding":{}},
 {"width":396,"height":75,"title":{"text":"ERBB2"},"data":{"name":"ERBB2"},"resolve":{"scale":{"x":"independent"},"axis":{"x":"independent"}},"layer":[
  {"transform":[{"filter":{"field":"c","oneOf":["P-N2","P-N12","P-N13"]}}],"mark":"rect","encoding":{"x":{"field":"c","type":"nominal","scale":{"domain":["P-N2","P-N12","P-N13"],"range":[253,298]},"axis":{"orient":"top","title":null}},"y":{"field":"r","type":"nominal","scale":{"domain":["P-N1","P-N2","P-N12","P-N13","PND"]},"axis":{"orient":"right","title":null}},"color":{"field":"p","type":"nominal","scale":{"domain":[0,1,2,3,4],"range":["#6f9ceb","#9c0a0a","#ff0000","#ffbf00","#ffff00"]},"legend":{"orient":"none","legendX":77,"legendY":460,"title":"Key:","labelExpr":"['P > 0.05','P < 0.05','P < 0.01','P < 0.001','P < 0.0001'][datum.value]"}}}},
  {"transform":[{"filter":{"field":"c","equal":"PND"}}],"mark":"rect","encoding":{"x":{"field":"c","type":"nominal","scale":{"domain":["PND"],"range":[302,317]},"axis":{"orient":"top","title":null}},"y":{"field":"r","type":"nominal","scale":{"domain":["P-N1","P-N2","P-N12","P-N13","PND"]},"axis":{"orient":"right","title":null}},"color":{"field":"p","type":"nominal","scale":{"domain":[0,1,2,3,4],"range":["#6f9ceb","#9c0a0a","#ff0000","#ffbf00","#ffff00"]},"legend":{"orient":"none","legendX":77,"legendY":460,"title":"Key:","labelExpr":"['P > 0.05','P < 0.05','P < 0.01','P < 0.001','P < 0.0001'][datum.value]"}}}},
  {"transform":[{"filter":{"field":"c","oneOf":["P-J2","P-C3","P-C4","P-C5","P-C8"]}}],"mark":"rect","encoding":{"x":{"field":"c","type":"nominal","scale":{"domain":["P-J2","P-C3","P-C4","P-C5","P-C8"],"range":[321,396]},"axis":{"orient":"top","title":null}},"y":{"field":"r","type":"nominal","scale":{"domain":["P-N1","P-N2","P-N12","P-N13","PND"]},"axis":{"orient":"right","title":null}},"color":{"field":"p","type":"nominal","scale":{"domain":[0,1,2,3,4],"range":["#6f9ceb","#9c0a0a","#ff0000","#ffbf00","#ffff00"]},"legend":{"orient":"none","legendX":77,"legendY":460,"title":"Key:","labelExpr":"['P > 0.05','P < 0.05','P < 0.01','P < 0.001','P < 0.0001'][datum.value]"}}}},
  {"transform":[{"filter":{"field":"s","equal":"w"}}],"mark":{"type":"text","text":"*","color":"white","fontSize":14,"fontWeight":"bold","dy":4},"encoding":{"x":{"field":"c","type":"nominal","scale":{"domain":["P-J2","P-C3","P-C4","P-C5","P-C8"],"range":[321,396]},"axis":null},"y":{"field":"r","type":"nominal","scale":{"domain":["P-N1","P-N2","P-N12","P-N13","PND"]},"axis":{"orient":"right","title":null}}}},
  {"transform":[{"filter":{"field":"s","equal":"k"}}],"mark":{"type":"text","text":"*","color":"black","fontSize":14,"fontWeight":"bold","dy":4},"encoding":{"x":{"field":"c","type":"nominal","scale":{"domain":["P-J2","P-C3","P-C4","P-C5","P-C8"],"range":[321,396]},"axis":null},"y":{"field":"r","type":"nominal","scale":{"domain":["P-N1","P-N2","P-N12","P-N13","PND"]},"axis":{"orient":"right","title":null}}}},
  {"data":{"values":[{"r":"PND"}]},"mark":{"type":"rule","color":"white","strokeWidth":3},"encoding":{"y":{"field":"r","type":"nominal","bandPosition":0,"scale":{"domain":["P-N1","P-N2","P-N12","P-N13","PND"]},"axis":{"orient":"right","title":null}}}}
 ]}
],"spacing":0,"bounds":"flush"},
{"vconcat":[
 {"width":1,"height":72,"data":{"values":[]},"mark":"point","encoding":{}},
 {"width":254.4,"height":156,"title":{"text":"FOSL2"},"data":{"name":"FOSL2"},"resolve":{"scale":{"x":"independent"},"axis":{"x":"independent"}},"layer":[
  {"transform":[{"filter":{"field":"c","oneOf":["P-N8","P-N9","P-N10","P-N15","P-N17","P-N18","P-N19","P-N20"]}}],"mark":"rect","encoding":{"x":{"field":"c","type":"nominal","scale":{"domain":["P-N8","P-N9","P-N10","P-N15","P-N17","P-N18","P-N19","P-N20"],"range":[1,124.2]},"axis":{"orient":"top","title":null}},"y":{"field":"r","type":"nominal","scale":{"domain":["P-N1","P-N8","P-N9","P-N10","P-N15","P-N17","P-N18","P-N19","P-N20","PND"]},"axis":{"orient":"right","title":null}},"color":{"field":"p","type":"nominal","scale":{"domain":[0,1,2,3,4],"range":["#6f9ceb","#9c0a0a","#ff0000","#ffbf00","#ffff00"]},"legend":{"orient":"none","legendX":77,"legendY":460,"title":"Key:","labelExpr":"['P > 0.05','P < 0.05','P < 0.01','P < 0.001','P < 0.0001'][datum.value]"}}}},
  {"transform":[{"filter":{"field":"c","equal":"PND"}}],"mark":"rect","encoding":{"x":{"field":"c","type":"nominal","scale":{"domain":["PND"],"range":[127.7,143.1]},"axis":{"orient":"top","title":null}},"y":{"field":"r","type":"nominal","scale":{"domain":["P-N1","P-N8","P-N9","P-N10","P-N15","P-N17","P-N18","P-N19","P-N20","PND"]},"axis":{"orient":"right","title":null}},"color":{"field":"p","type":"nominal","scale":{"domain":[0,1,2,3,4],"range":["#6f9ceb","#9c0a0a","#ff0000","#ffbf00","#ffff00"]},"legend":{"orient":"none","legendX":77,"legendY":460,"title":"Key:","labelExpr":"['P > 0.05','P < 0.05','P < 0.01','P < 0.001','P < 0.0001'][datum.value]"}}}},
  {"transform":[{"filter":{"field":"c","oneOf":["P-C1","P-C4","P-C11","P-C13","P-C14","P-C15","P-C16"]}}],"mark":"rect","encoding":{"x":{"field":"c","type":"nominal","scale":{"domain":["P-C1","P-C4","P-C11","P-C13","P-C14","P-C15","P-C16"],"range":[146.6,254.4]},"axis":{"orient":"top","title":null}},"y":{"field":"r","type":"nominal","scale":{"domain":["P-N1","P-N8","P-N9","P-N10","P-N15","P-N17","P-N18","P-N19","P-N20","PND"]},"axis":{"orient":"right","title":null}},"color":{"field":"p","type":"nominal","scale":{"domain":[0,1,2,3,4],"range":["#6f9ceb","#9c0a0a","#ff0000","#ffbf00","#ffff00"]},"legend":{"orient":"none","legendX":77,"legendY":460,"title":"Key:","labelExpr":"['P > 0.05','P < 0.05','P < 0.01','P < 0.001','P < 0.0001'][datum.value]"}}}},
  {"transform":[{"filter":{"field":"s","equal":"w"}}],"mark":{"type":"text","text":"*","color":"white","fontSize":14,"fontWeight":"bold","dy":4},"encoding":{"x":{"field":"c","type":"nominal","scale":{"domain":["P-C1","P-C4","P-C11","P-C13","P-C14","P-C15","P-C16"],"range":[146.6,254.4]},"axis":null},"y":{"field":"r","type":"nominal","scale":{"domain":["P-N1","P-N8","P-N9","P-N10","P-N15","P-N17","P-N18","P-N19","P-N20","PND"]},"axis":{"orient":"right","title":null}}}},
  {"transform":[{"filter":{"field":"s","equal":"k"}}],"mark":{"type":"text","text":"*","color":"black","fontSize":14,"fontWeight":"bold","dy":4},"encoding":{"x":{"field":"c","type":"nominal","scale":{"domain":["P-C1","P-C4","P-C11","P-C13","P-C14","P-C15","P-C16"],"range":[146.6,254.4]},"axis":null},"y":{"field":"r","type":"nominal","scale":{"domain":["P-N1","P-N8","P-N9","P-N10","P-N15","P-N17","P-N18","P-N19","P-N20","PND"]},"axis":{"orient":"right","title":null}}}},
  {"data":{"values":[{"r":"PND"}]},"mark":{"type":"rule","color":"white","strokeWidth":3},"encoding":{"y":{"field":"r","type":"nominal","bandPosition":0,"scale":{"domain":["P-N1","P-N8","P-N9","P-N10","P-N15","P-N17","P-N18","P-N19","P-N20","PND"]},"axis":{"orient":"right","title":null}}}}
 ]},
 {"width":1,"height":84,"data":{"values":[]},"mark":"point","encoding":{}},
 {"width":254.8,"height":107.8,"title":{"text":"HES5"},"data":{"name":"HES5"},"resolve":{"scale":{"x":"independent"},"axis":{"x":"independent"}},"layer":[
  {"transform":[{"filter":{"field":"c","oneOf":["P-N17","P-N19","P-N21","P-N22","P-N23"]}}],"mark":"rect","encoding":{"x":{"field":"c","type":"nominal","scale":{"domain":["P-N17","P-N19","P-N21","P-N22","P-N23"],"range":[62,139]},"axis":{"orient":"top","title":null}},"y":{"field":"r","type":"nominal","scale":{"domain":["P-N10","P-N17","P-N19","P-N21","P-N22","P-N23","PND"]},"axis":{"orient":"right","title":null}},"color":{"field":"p","type":"nominal","scale":{"domain":[0,1,2,3,4],"range":["#6f9ceb","#9c0a0a","#ff0000","#ffbf00","#ffff00"]},"legend":{"orient":"none","legendX":77,"legendY":460,"title":"Key:","labelExpr":"['P > 0.05','P < 0.05','P < 0.01','P < 0.001','P < 0.0001'][datum.value]"}}}},
  {"transform":[{"filter":{"field":"c","equal":"PND"}}],"mark":"rect","encoding":{"x":{"field":"c","type":"nominal","scale":{"domain":["PND"],"range":[143,158.4]},"axis":{"orient":"top","title":null}},"y":{"field":"r","type":"nominal","scale":{"domain":["P-N10","P-N17","P-N19","P-N21","P-N22","P-N23","PND"]},"axis":{"orient":"right","title":null}},"color":{"field":"p","type":"nominal","scale":{"domain":[0,1,2,3,4],"range":["#6f9ceb","#9c0a0a","#ff0000","#ffbf00","#ffff00"]},"legend":{"orient":"none","legendX":77,"legendY":460,"title":"Key:","labelExpr":"['P > 0.05','P < 0.05','P < 0.01','P < 0.001','P < 0.0001'][datum.value]"}}}},
  {"transform":[{"filter":{"field":"c","oneOf":["P-C13","P-C16","P-C17","P-C18","P-C19","P-C20"]}}],"mark":"rect","encoding":{"x":{"field":"c","type":"nominal","scale":{"domain":["P-C13","P-C16","P-C17","P-C18","P-C19","P-C20"],"range":[162.4,254.8]},"axis":{"orient":"top","title":null}},"y":{"field":"r","type":"nominal","scale":{"domain":["P-N10","P-N17","P-N19","P-N21","P-N22","P-N23","PND"]},"axis":{"orient":"right","title":null}},"color":{"field":"p","type":"nominal","scale":{"domain":[0,1,2,3,4],"range":["#6f9ceb","#9c0a0a","#ff0000","#ffbf00","#ffff00"]},"legend":{"orient":"none","legendX":77,"legendY":460,"title":"Key:","labelExpr":"['P > 0.05','P < 0.05','P < 0.01','P < 0.001','P < 0.0001'][datum.value]"}}}},
  {"transform":[{"filter":{"field":"s","equal":"w"}}],"mark":{"type":"text","text":"*","color":"white","fontSize":14,"fontWeight":"bold","dy":4},"encoding":{"x":{"field":"c","type":"nominal","scale":{"domain":["P-C13","P-C16","P-C17","P-C18","P-C19","P-C20"],"range":[162.4,254.8]},"axis":null},"y":{"field":"r","type":"nominal","scale":{"domain":["P-N10","P-N17","P-N19","P-N21","P-N22","P-N23","PND"]},"axis":{"orient":"right","title":null}}}},
  {"data":{"values":[{"r":"PND"}]},"mark":{"type":"rule","color":"white","strokeWidth":3},"encoding":{"y":{"field":"r","type":"nominal","bandPosition":0,"scale":{"domain":["P-N10","P-N17","P-N19","P-N21","P-N22","P-N23","PND"]},"axis":{"orient":"right","title":null}}}}
 ]},
 {"width":1,"height":85.2,"data":{"values":[]},"mark":"point","encoding":{}},
 {"width":252.3,"height":120,"title":{"text":"HSP90AA1"},"data":{"name":"HSP90AA1"},"resolve":{"scale":{"x":"independent"},"axis":{"x":"independent"}},"layer":[
  {"transform":[{"filter":{"field":"c","oneOf":["P-N2","P-N7","P-N12","P-N13","P-N14","P-N15"]}}],"mark":"rect","encoding":{"x":{"field":"c","type":"nominal","scale":{"domain":["P-N2","P-N7","P-N12","P-N13","P-N14","P-N15"],"range":[77,168.8]},"axis":{"orient":"top","title":null}},"y":{"field":"r","type":"nominal","scale":{"domain":["P-N1","P-N2","P-N7","P-N12","P-N13","P-N14","P-N15","PND"]},"axis":{"orient":"right","title":null}},"color":{"field":"p","type":"nominal","scale":{"domain":[0,1,2,3,4],"range":["#6f9ceb","#9c0a0a","#ff0000","#ffbf00","#ffff00"]},"legend":{"orient":"none","legendX":77,"legendY":460,"title":"Key:","labelExpr":"['P > 0.05','P < 0.05','P < 0.01','P < 0.001','P < 0.0001'][datum.value]"}}}},
  {"transform":[{"filter":{"field":"c","equal":"PND"}}],"mark":"rect","encoding":{"x":{"field":"c","type":"nominal","scale":{"domain":["PND"],"range":[172.3,187.6]},"axis":{"orient":"top","title":null}},"y":{"field":"r","type":"nominal","scale":{"domain":["P-N1","P-N2","P-N7","P-N12","P-N13","P-N14","P-N15","PND"]},"axis":{"orient":"right","title":null}},"color":{"field":"p","type":"nominal","scale":{"domain":[0,1,2,3,4],"range":["#6f9ceb","#9c0a0a","#ff0000","#ffbf00","#ffff00"]},"legend":{"orient":"none","legendX":77,"legendY":460,"title":"Key:","labelExpr":"['P > 0.05','P < 0.05','P < 0.01','P < 0.001','P < 0.0001'][datum.value]"}}}},
  {"transform":[{"filter":{"field":"c","oneOf":["P-C1","P-C2","P-C3","P-C10"]}}],"mark":"rect","encoding":{"x":{"field":"c","type":"nominal","scale":{"domain":["P-C1","P-C2","P-C3","P-C10"],"range":[191.1,252.3]},"axis":{"orient":"top","title":null}},"y":{"field":"r","type":"nominal","scale":{"domain":["P-N1","P-N2","P-N7","P-N12","P-N13","P-N14","P-N15","PND"]},"axis":{"orient":"right","title":null}},"color":{"field":"p","type":"nominal","scale":{"domain":[0,1,2,3,4],"range":["#6f9ceb","#9c0a0a","#ff0000","#ffbf00","#ffff00"]},"legend":{"orient":"none","legendX":77,"legendY":460,"title":"Key:","labelExpr":"['P > 0.05','P < 0.05','P < 0.01','P < 0.001','P < 0.0001'][datum.value]"}}}},
  {"transform":[{"filter":{"field":"s","equal":"w"}}],"mark":{"type":"text","text":"*","color":"white","fontSize":14,"fontWeight":"bold","dy":4},"encoding":{"x":{"field":"c","type":"nominal","scale":{"domain":["P-C1","P-C2","P-C3","P-C10"],"range":[191.1,252.3]},"axis":null},"y":{"field":"r","type":"nominal","scale":{"domain":["P-N1","P-N2","P-N7","P-N12","P-N13","P-N14","P-N15","PND"]},"axis":{"orient":"right","title":null}}}},
  {"data":{"values":[{"r":"PND"}]},"mark":{"type":"rule","color":"white","strokeWidth":3},"encoding":{"y":{"field":"r","type":"nominal","bandPosition":0,"scale":{"domain":["P-N1","P-N2","P-N7","P-N12","P-N13","P-N14","P-N15","PND"]},"axis":{"orient":"right","title":null}}}}
 ]},
 {"width":1,"height":88,"data":{"values":[]},"mark":"point","encoding":{}},
 {"width":253.5,"height":107.1,"title":{"text":"MYC"},"data":{"name":"MYC"},"resolve":{"scale":{"x":"independent"},"axis":{"x":"independent"}},"layer":[
  {"transform":[{"filter":{"field":"c","oneOf":["P-N11","P-N13","P-N18","P-N19","P-N24"]}}],"mark":"rect","encoding":{"x":{"field":"c","type":"nominal","scale":{"domain":["P-N11","P-N13","P-N18","P-N19","P-N24"],"range":[77,153.5]},"axis":{"orient":"top","title":null}},"y":{"field":"r","type":"nominal","scale":{"domain":["P-N2","P-N11","P-N13","P-N18","P-N19","P-N24","PND"]},"axis":{"orient":"right","title":null}},"color":{"field":"p","type":"nominal","scale":{"domain":[0,1,2,3,4],"range":["#6f9ceb","#9c0a0a","#ff0000","#ffbf00","#ffff00"]},"legend":{"orient":"none","legendX":77,"legendY":460,"title":"Key:","labelExpr":"['P > 0.05','P < 0.05','P < 0.01','P < 0.001','P < 0.0001'][datum.value]"}}}},
  {"transform":[{"filter":{"field":"c","equal":"PND"}}],"mark":"rect","encoding":{"x":{"field":"c","type":"nominal","scale":{"domain":["PND"],"range":[157.3,172.6]},"axis":{"orient":"top","title":null}},"y":{"field":"r","type":"nominal","scale":{"domain":["P-N2","P-N11","P-N13","P-N18","P-N19","P-N24","PND"]},"axis":{"orient":"right","title":null}},"color":{"field":"p","type":"nominal","scale":{"domain":[0,1,2,3,4],"range":["#6f9ceb","#9c0a0a","#ff0000","#ffbf00","#ffff00"]},"legend":{"orient":"none","legendX":77,"legendY":460,"title":"Key:","labelExpr":"['P > 0.05','P < 0.05','P < 0.01','P < 0.001','P < 0.0001'][datum.value]"}}}},
  {"transform":[{"filter":{"field":"c","oneOf":["P-C1","P-C3","P-C14","P-C15","CP-17"]}}],"mark":"rect","encoding":{"x":{"field":"c","type":"nominal","scale":{"domain":["P-C1","P-C3","P-C14","P-C15","CP-17"],"range":[177,253.5]},"axis":{"orient":"top","title":null}},"y":{"field":"r","type":"nominal","scale":{"domain":["P-N2","P-N11","P-N13","P-N18","P-N19","P-N24","PND"]},"axis":{"orient":"right","title":null}},"color":{"field":"p","type":"nominal","scale":{"domain":[0,1,2,3,4],"range":["#6f9ceb","#9c0a0a","#ff0000","#ffbf00","#ffff00"]},"legend":{"orient":"none","legendX":77,"legendY":460,"title":"Key:","labelExpr":"['P > 0.05','P < 0.05','P < 0.01','P < 0.001','P < 0.0001'][datum.value]"}}}},
  {"transform":[{"filter":{"field":"s","equal":"w"}}],"mark":{"type":"text","text":"*","color":"white","fontSize":14,"fontWeight":"bold","dy":4},"encoding":{"x":{"field":"c","type":"nominal","scale":{"domain":["P-C1","P-C3","P-C14","P-C15","CP-17"],"range":[177,253.5]},"axis":null},"y":{"field":"r","type":"nominal","scale":{"domain":["P-N2","P-N11","P-N13","P-N18","P-N19","P-N24","PND"]},"axis":{"orient":"right","title":null}}}},
  {"data":{"values":[{"r":"PND"}]},"mark":{"type":"rule","color":"white","strokeWidth":3},"encoding":{"y":{"field":"r","type":"nominal","bandPosition":0,"scale":{"domain":["P-N2","P-N11","P-N13","P-N18","P-N19","P-N24","PND"]},"axis":{"orient":"right","title":null}}}}
 ]},
 {"width":1,"height":87.9,"data":{"values":[]},"mark":"point","encoding":{}},
 {"width":253.5,"height":107.1,"title":{"text":"TGFB3"},"data":{"name":"TGFB3"},"resolve":{"scale":{"x":"independent"},"axis":{"x":"independent"}},"layer":[
  {"transform":[{"filter":{"field":"c","oneOf":["P-N2","P-N7","P-N12","P-N13","P-N15"]}}],"mark":"rect","encoding":{"x":{"field":"c","type":"nominal","scale":{"domain":["P-N2","P-N7","P-N12","P-N13","P-N15"],"range":[92,168.5]},"axis":{"orient":"top","title":null}},"y":{"field":"r","type":"nominal","scale":{"domain":["P-N1","P-N2","P-N7","P-N12","P-N13","P-N15","PND"]},"axis":{"orient":"right","title":null}},"color":{"field":"p","type":"nominal","scale":{"domain":[0,1,2,3,4],"range":["#6f9ceb","#9c0a0a","#ff0000","#ffbf00","#ffff00"]},"legend":{"orient":"none","legendX":77,"legendY":460,"title":"Key:","labelExpr":"['P > 0.05','P < 0.05','P < 0.01','P < 0.001','P < 0.0001'][datum.value]"}}}},
  {"transform":[{"filter":{"field":"c","equal":"PND"}}],"mark":"rect","encoding":{"x":{"field":"c","type":"nominal","scale":{"domain":["PND"],"range":[174,189.3]},"axis":{"orient":"top","title":null}},"y":{"field":"r","type":"nominal","scale":{"domain":["P-N1","P-N2","P-N7","P-N12","P-N13","P-N15","PND"]},"axis":{"orient":"right","title":null}},"color":{"field":"p","type":"nominal","scale":{"domain":[0,1,2,3,4],"range":["#6f9ceb","#9c0a0a","#ff0000","#ffbf00","#ffff00"]},"legend":{"orient":"none","legendX":77,"legendY":460,"title":"Key:","labelExpr":"['P > 0.05','P < 0.05','P < 0.01','P < 0.001','P < 0.0001'][datum.value]"}}}},
  {"transform":[{"filter":{"field":"c","oneOf":["P-C1","P-C22","P-C23","P-C4"]}}],"mark":"rect","encoding":{"x":{"field":"c","type":"nominal","scale":{"domain":["P-C1","P-C22","P-C23","P-C4"],"range":[192.3,253.5]},"axis":{"orient":"top","title":null}},"y":{"field":"r","type":"nominal","scale":{"domain":["P-N1","P-N2","P-N7","P-N12","P-N13","P-N15","PND"]},"axis":{"orient":"right","title":null}},"color":{"field":"p","type":"nominal","scale":{"domain":[0,1,2,3,4],"range":["#6f9ceb","#9c0a0a","#ff0000","#ffbf00","#ffff00"]},"legend":{"orient":"none","legendX":77,"legendY":460,"title":"Key:","labelExpr":"['P > 0.05','P < 0.05','P < 0.01','P < 0.001','P < 0.0001'][datum.value]"}}}},
  {"transform":[{"filter":{"field":"s","equal":"w"}}],"mark":{"type":"text","text":"*","color":"white","fontSize":14,"fontWeight":"bold","dy":4},"encoding":{"x":{"field":"c","type":"nominal","scale":{"domain":["P-C1","P-C22","P-C23","P-C4"],"range":[192.3,253.5]},"axis":null},"y":{"field":"r","type":"nominal","scale":{"domain":["P-N1","P-N2","P-N7","P-N12","P-N13","P-N15","PND"]},"axis":{"orient":"right","title":null}}}},
  {"data":{"values":[{"r":"PND"}]},"mark":{"type":"rule","color":"white","strokeWidth":3},"encoding":{"y":{"field":"r","type":"nominal","bandPosition":0,"scale":{"domain":["P-N1","P-N2","P-N7","P-N12","P-N13","P-N15","PND"]},"axis":{"orient":"right","title":null}}}}
 ]}
],"spacing":0,"bounds":"flush"}
],
"spacing":0
}
